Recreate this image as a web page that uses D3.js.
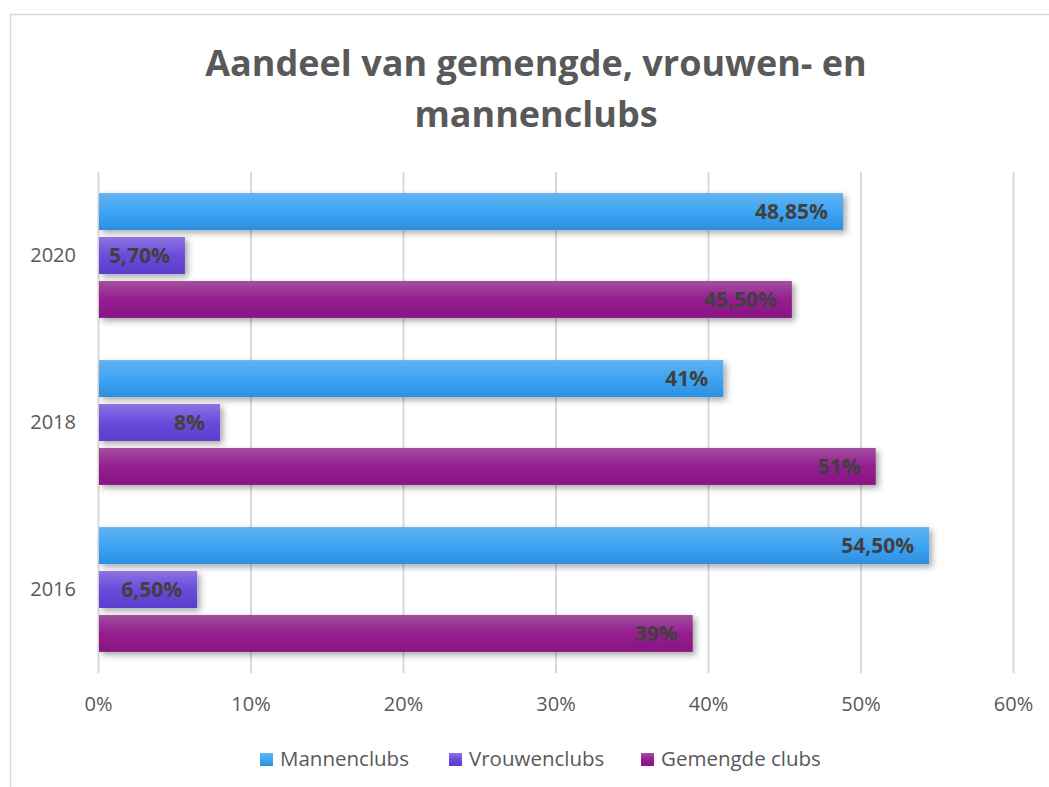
<!DOCTYPE html>
<html>
<head>
<meta charset="utf-8">
<script src="https://cdn.jsdelivr.net/npm/d3@7"></script>
<style>
  body { margin: 0; background: #fff; }
  text { font-family: "Open Sans", sans-serif; }
</style>
</head>
<body>
<script>
// Data
var years = ["2020", "2018", "2016"];
var seriesNames = ["Mannenclubs", "Vrouwenclubs", "Gemengde clubs"];
var mannen = [48.85, 41, 54.5];
var vrouwen = [5.7, 8, 6.5];
var gemengd = [45.5, 51, 39];
var valueLabels = [
  ["48,85%", "41%", "54,50%"],
  ["5,70%", "8%", "6,50%"],
  ["45,50%", "51%", "39%"]
];
var xTicks = [0, 10, 20, 30, 40, 50, 60];

var svgWidth = 1049;
var svgHeight = 787;

var margin = { top: 172, left: 98, right: 36, bottom: 114 };

var svg = d3.select("body").append("svg")
  .attr("width", svgWidth)
  .attr("height", svgHeight);

// gradients + shadow
var defs = svg.append("defs");
var grads = [
  ["#62b2f0", "#3ea5f3", "#2c8fe0"],
  ["#8d72e2", "#6a4cda", "#5a3ccc"],
  ["#a2509f", "#951d8f", "#891684"]
];
grads.forEach(function(g, i) {
  var lg = defs.append("linearGradient").attr("id", "g" + i)
    .attr("x1", 0).attr("y1", 0).attr("x2", 0).attr("y2", 1);
  lg.append("stop").attr("offset", "0%").attr("stop-color", g[0]);
  lg.append("stop").attr("offset", "50%").attr("stop-color", g[1]);
  lg.append("stop").attr("offset", "100%").attr("stop-color", g[2]);
});
defs.append("filter").attr("id", "shadow")
  .attr("x", "-5%").attr("y", "-30%").attr("width", "115%").attr("height", "180%")
  .append("feDropShadow")
  .attr("dx", 3).attr("dy", 3).attr("stdDeviation", 3)
  .attr("flood-color", "#000").attr("flood-opacity", 0.35);

// chart frame
svg.append("rect")
  .attr("x", 10.5).attr("y", 14.5)
  .attr("width", svgWidth + 20).attr("height", svgHeight + 20)
  .attr("fill", "none").attr("stroke", "#d9d9d9").attr("stroke-width", 1.5);

// title
var title = svg.append("text")
  .attr("text-anchor", "middle")
  .attr("fill", "#595959")
  .style("font-size", "36px")
  .style("font-weight", "bold");
title.append("tspan").attr("x", 536).attr("y", 76).text("Aandeel van gemengde, vrouwen- en");
title.append("tspan").attr("x", 536).attr("y", 127).text("mannenclubs");

var chartGroup = svg.append("g")
  .attr("transform", `translate(${margin.left}, ${margin.top})`);

var xScale = d3.scaleLinear().domain([0, 60]).range([0, 915]);
var yScale = d3.scaleBand().domain(years).range([0, 501]);
var inner = d3.scaleBand().domain(seriesNames).range([0, yScale.bandwidth()])
  .paddingInner(0.16).paddingOuter(0.48);

// gridlines via axis
var gridAxis = d3.axisBottom(xScale).tickValues(xTicks).tickSize(-501).tickFormat("");
chartGroup.append("g")
  .attr("transform", `translate(0, 501)`)
  .call(gridAxis)
  .call(g => g.select(".domain").remove())
  .call(g => g.selectAll("line").attr("stroke", "#d9d9d9").attr("stroke-width", 2));

// x tick labels
var bottomAxis = d3.axisBottom(xScale).tickValues(xTicks).tickSize(0).tickPadding(24)
  .tickFormat(d => d + "%");
chartGroup.append("g")
  .attr("transform", `translate(0, 501)`)
  .call(bottomAxis)
  .call(g => g.select(".domain").remove())
  .call(g => g.selectAll("text").attr("fill", "#595959")
    .style("font-size", "20px").style("font-family", "'Open Sans', sans-serif"));

// y category labels
var leftAxis = d3.axisLeft(yScale).tickSize(0).tickPadding(22);
chartGroup.append("g")
  .call(leftAxis)
  .call(g => g.select(".domain").remove())
  .call(g => g.selectAll("text").attr("fill", "#595959")
    .style("font-size", "20px").style("font-family", "'Open Sans', sans-serif"));

// bars
var series = [mannen, vrouwen, gemengd];
var rows = [];
series.forEach(function(vals, si) {
  vals.forEach(function(v, yi) {
    rows.push({ s: si, name: seriesNames[si], year: years[yi], value: v, label: valueLabels[si][yi] });
  });
});

chartGroup.selectAll(".bar")
  .data(rows)
  .enter()
  .append("rect")
  .attr("class", "bar")
  .attr("x", xScale(0) + 1)
  .attr("y", d => yScale(d.year) + inner(d.name))
  .attr("width", d => xScale(d.value) - xScale(0) - 1)
  .attr("height", inner.bandwidth())
  .attr("fill", d => "url(#g" + d.s + ")")
  .attr("filter", "url(#shadow)");

chartGroup.selectAll(".lbl")
  .data(rows)
  .enter()
  .append("text")
  .attr("class", "lbl")
  .attr("x", d => xScale(d.value) - 15)
  .attr("y", d => yScale(d.year) + inner(d.name) + inner.bandwidth() / 2)
  .attr("dy", "0.36em")
  .attr("text-anchor", "end")
  .attr("fill", "#404040")
  .style("font-size", "21px")
  .style("font-weight", "bold")
  .text(d => d.label);

// legend
var legendX = [260, 449, 641];
var legend = svg.append("g");
seriesNames.forEach(function(n, i) {
  legend.append("rect")
    .attr("x", legendX[i]).attr("y", 753)
    .attr("width", 13).attr("height", 13)
    .attr("fill", "url(#g" + i + ")");
  legend.append("text")
    .attr("x", legendX[i] + 20).attr("y", 759)
    .attr("dy", "0.36em")
    .attr("fill", "#595959")
    .style("font-size", "20.5px")
    .text(n);
});
</script>
</body>
</html>
